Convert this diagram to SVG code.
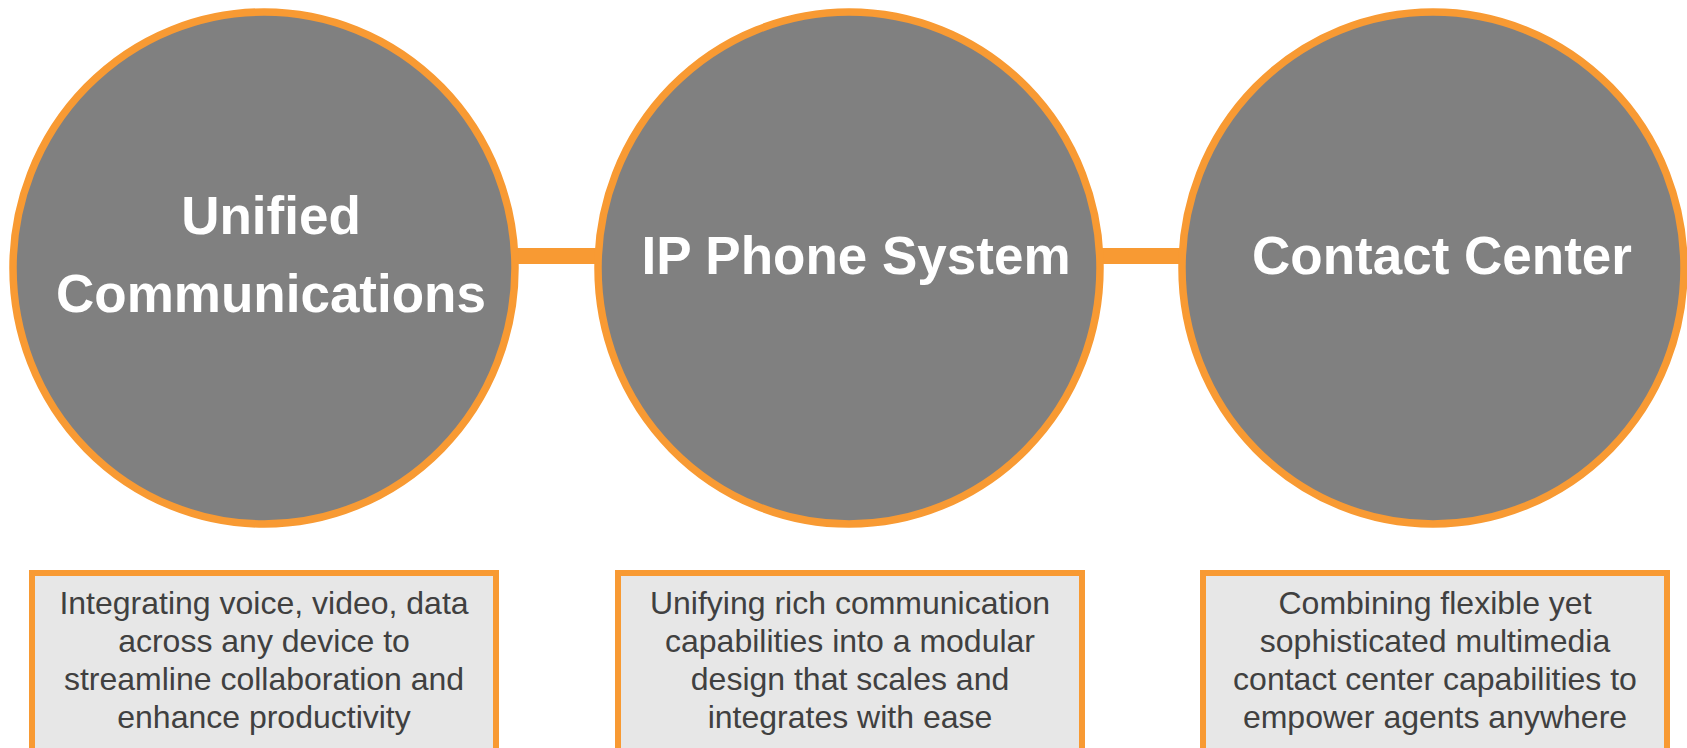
<svg xmlns="http://www.w3.org/2000/svg" width="1687" height="748" viewBox="0 0 1687 748">
<style>
.ring{fill:#808080;stroke:#F89A33;stroke-width:7.5}
.title{font-family:"Liberation Sans",Arial,sans-serif;font-weight:bold;font-size:53px;fill:#ffffff;text-anchor:middle}
.box{fill:#E7E7E7;stroke:#F89A33;stroke-width:6}
.desc{font-family:"Liberation Sans",Arial,sans-serif;font-size:32px;fill:#404040;text-anchor:middle}
.conn{stroke:#F89A33;stroke-width:16;fill:none}
</style>
<rect width="1687" height="748" fill="#ffffff"/>
<g id="connectors">
<line class="conn" x1="515" y1="256" x2="598" y2="256"/>
<line class="conn" x1="1100" y1="256" x2="1184" y2="256"/>
</g>
<g id="node-uc">
<ellipse class="ring" cx="264" cy="268" rx="251" ry="256"/>
<text class="title" x="271" y="234">Unified</text>
<text class="title" x="271" y="312">Communications</text>
</g>
<g id="node-ip">
<ellipse class="ring" cx="849" cy="268" rx="251" ry="256"/>
<text class="title" x="856" y="274">IP Phone System</text>
</g>
<g id="node-cc">
<ellipse class="ring" cx="1433" cy="268" rx="251" ry="256"/>
<text class="title" x="1442" y="274">Contact Center</text>
</g>
<g id="desc-uc">
<rect class="box" x="32" y="573" width="464" height="190"/>
<text class="desc" x="264" y="614">Integrating voice, video, data</text>
<text class="desc" x="264" y="652">across any device to</text>
<text class="desc" x="264" y="690">streamline collaboration and</text>
<text class="desc" x="264" y="728">enhance productivity</text>
</g>
<g id="desc-ip">
<rect class="box" x="618" y="573" width="464" height="190"/>
<text class="desc" x="850" y="614">Unifying rich communication</text>
<text class="desc" x="850" y="652">capabilities into a modular</text>
<text class="desc" x="850" y="690">design that scales and</text>
<text class="desc" x="850" y="728">integrates with ease</text>
</g>
<g id="desc-cc">
<rect class="box" x="1203" y="573" width="464" height="190"/>
<text class="desc" x="1435" y="614">Combining flexible yet</text>
<text class="desc" x="1435" y="652">sophisticated multimedia</text>
<text class="desc" x="1435" y="690">contact center capabilities to</text>
<text class="desc" x="1435" y="728">empower agents anywhere</text>
</g>
</svg>
